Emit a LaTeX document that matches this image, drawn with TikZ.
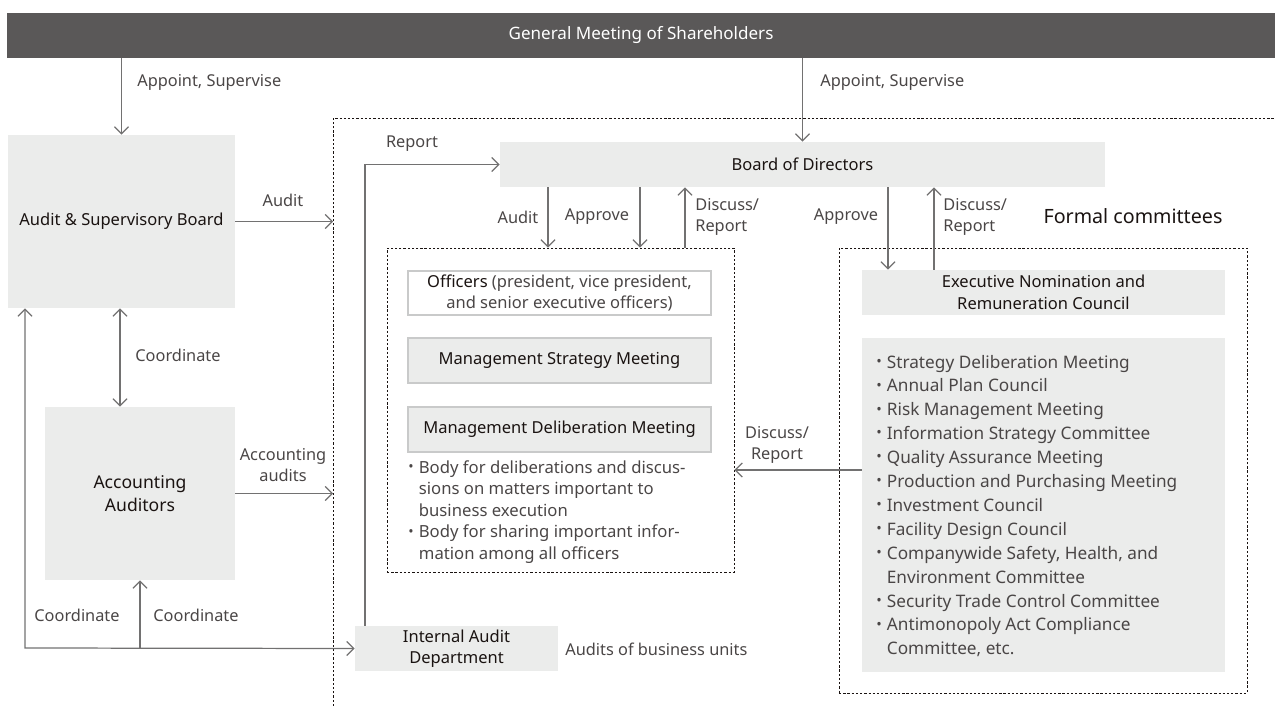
\documentclass[tikz,border=0pt]{standalone}
\usepackage{fontspec}
\setmainfont{Noto Sans}
\usetikzlibrary{arrows.meta, calc}

\definecolor{barcol}{HTML}{5A5858}
\definecolor{boxcol}{HTML}{EBECEB}
\definecolor{edgecol}{HTML}{C9CACA}
\definecolor{linecol}{HTML}{727171}
\definecolor{txtcol}{HTML}{4A4646}
\definecolor{darkcol}{HTML}{1A1311}

\newcommand\pu[1]{#1*0.02cm}
\newcommand\bul{\makebox[6pt][l]{\raisebox{.2ex}{\scalebox{.85}{•}}}}
\newcommand\ind{\hspace*{6pt}}

\tikzset{
  lbl/.style={font=\fontsize{9.3}{12}\selectfont, text=txtcol, inner sep=0pt},
  box/.style={fill=boxcol, inner sep=0pt, align=center, text=darkcol,
    font=\fontsize{9.4}{12.2}\selectfont},
  mbox/.style={box, draw=edgecol, line width=0.8pt},
  grp/.style={draw=darkcol, line width=0.5pt, dash pattern=on 1.3pt off 1.1pt, inner sep=0pt},
  arr/.style={draw=linecol, line width=0.7pt, -{Straight Barb[length=4pt,width=8pt]}},
  dbl/.style={arr, {Straight Barb[length=4pt,width=8pt]}-{Straight Barb[length=4pt,width=8pt]}},
  ln/.style={draw=linecol, line width=0.7pt}
}

\begin{document}
\begin{tikzpicture}[x=0.02cm, y=-0.02cm]
  \useasboundingbox (0,0) rectangle (1275,706);

  % shareholders bar
  \node[fill=barcol, text=white, inner sep=0pt, font=\fontsize{9.7}{12}\selectfont,
    minimum width=\pu{1268}, minimum height=\pu{45}] (gm) at (641,35.5) {General Meeting of Shareholders};

  % open dotted boundary of the executing side
  \coordinate (bnd) at (333,118);
  \draw[grp] (333,706) -- (bnd) -- (1275,118);

  % left side boards
  \node[box, minimum width=\pu{227}, minimum height=\pu{173}] (asb) at (121.5,221.5) {Audit \& Supervisory Board};
  \node[box, font=\fontsize{10}{13}\selectfont, minimum width=\pu{190}, minimum height=\pu{173}] (aa) at (140,493.5) {Accounting\\Auditors};
  \node[box, minimum width=\pu{203}, minimum height=\pu{45}] (iad) at (456.5,648.5) {Internal Audit\\Department};

  % board and groups
  \node[box, minimum width=\pu{605}, minimum height=\pu{45}] (bod) at (802.5,164.5) {Board of Directors};
  \node[grp, minimum width=\pu{347}, minimum height=\pu{324}] (offgrp) at (560.5,410) {};
  \node[grp, minimum width=\pu{408}, minimum height=\pu{445}] (fcgrp) at (1043,470.5) {};

  % officers group
  \node[mbox, fill=white, text=txtcol, minimum width=\pu{303}, minimum height=\pu{44}] (off) at (559.5,293)
    {\textcolor{darkcol}{\textbf{Officers}} (president, vice president,\\and senior executive officers)};
  \node[mbox, minimum width=\pu{303}, minimum height=\pu{45}] (msm) at (559.5,360.5) {Management Strategy Meeting};
  \node[mbox, minimum width=\pu{303}, minimum height=\pu{45}] (mdm) at (559.5,429.5) {Management Deliberation Meeting};
  \node[lbl, align=left, font=\fontsize{9.5}{12.2}\selectfont, anchor=west] (mdmtxt) at (408,512)
    {\bul Body for deliberations and discus-\\\ind sions on matters important to\\\ind business execution\\
     \bul Body for sharing important infor-\\\ind mation among all officers};

  % formal committees
  \node[box, minimum width=\pu{363}, minimum height=\pu{45}] (enrc) at (1043.5,292.5) {Executive Nomination and\\Remuneration Council};
  \node[box, minimum width=\pu{363}, minimum height=\pu{334}] (cmbox) at (1043.5,505) {};
  \node[lbl, align=left, font=\fontsize{9.8}{13.6}\selectfont, anchor=west] (cmlist) at (876,506)
    {\bul Strategy Deliberation Meeting\\
     \bul Annual Plan Council\\
     \bul Risk Management Meeting\\
     \bul Information Strategy Committee\\
     \bul Quality Assurance Meeting\\
     \bul Production and Purchasing Meeting\\
     \bul Investment Council\\
     \bul Facility Design Council\\
     \bul Companywide Safety, Health, and\\\ind Environment Committee\\
     \bul Security Trade Control Committee\\
     \bul Antimonopoly Act Compliance\\\ind Committee, etc.};
  \node[lbl, font=\fontsize{11.2}{13}\selectfont, text=darkcol] (fctitle) at (1133,216) {Formal committees};

  % appoint and supervise
  \draw[arr] (asb.north |- gm.south) -- (asb.north);
  \draw[arr] (bod.north |- gm.south) -- (bod.north);
  \node[lbl, anchor=west] (apl) at (137,82) {Appoint, Supervise};
  \node[lbl, anchor=west] (apr) at (820,82) {Appoint, Supervise};

  % audits into the boundary
  \draw[arr] (asb.east) -- (asb.east -| bnd);
  \draw[arr] (aa.east) -- (aa.east -| bnd);
  \node[lbl] (audl) at (283,200) {Audit};
  \node[lbl, align=center] (accl) at (283,465) {Accounting\\audits};

  % coordination
  \coordinate (xc) at (120,0);
  \coordinate (bl) at (25,648);
  \draw[dbl] (xc |- asb.south) -- (xc |- aa.north);
  \draw[dbl] (asb.south -| bl) -- (bl) -- (iad.west);
  \draw[arr] (aa.south |- bl) -- (aa.south);
  \node[lbl] (co1) at (178,355) {Coordinate};
  \node[lbl] (co2) at (77,615) {Coordinate};
  \node[lbl] (co3) at (196,615) {Coordinate};

  % internal audit report
  \coordinate (xr) at (365,0);
  \draw[arr] (xr |- iad.north) -- (xr |- bod.west) -- (bod.west);
  \node[lbl] (repl) at (412,144) {Report};
  \node[lbl, anchor=west] (aubu) at (565,649) {Audits of business units};

  % board to officers
  \coordinate (xa) at (548,0);
  \coordinate (xb) at (640,0);
  \coordinate (xd) at (685,0);
  \draw[arr] (xa |- bod.south) -- (xa |- offgrp.north);
  \draw[arr] (xb |- bod.south) -- (xb |- offgrp.north);
  \draw[arr] (xd |- offgrp.north) -- (xd |- bod.south);
  \node[lbl] (aud2) at (518,217) {Audit};
  \node[lbl] (apv1) at (597,217) {Approve};
  \node[lbl, align=left, anchor=west] (dr1) at (695,217) {Discuss/\\Report};

  % board to council
  \coordinate (xe) at (888,0);
  \coordinate (xf) at (934,0);
  \draw[arr] (xe |- bod.south) -- (xe |- enrc.north);
  \draw[arr] (xf |- enrc.north) -- (xf |- bod.south);
  \node[lbl] (apv2) at (846,217) {Approve};
  \node[lbl, align=left, anchor=west] (dr2) at (943,217) {Discuss/\\Report};

  % committees to officers
  \coordinate (yd) at (0,470);
  \draw[arr] (cmbox.west |- yd) -- (offgrp.east |- yd);
  \node[lbl, align=center] (dr3) at (777,445) {Discuss/\\Report};
\end{tikzpicture}
\end{document}
